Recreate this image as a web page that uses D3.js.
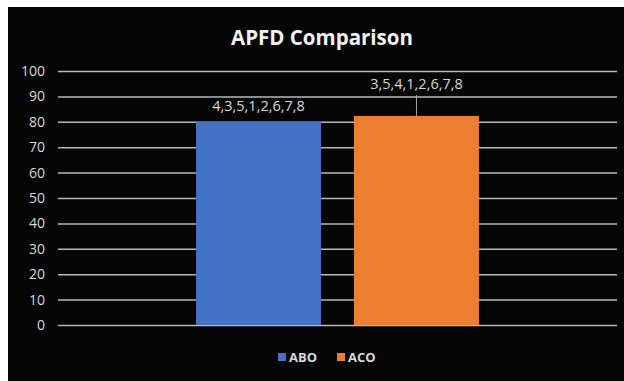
<!DOCTYPE html>
<html>
<head>
<meta charset="utf-8">
<script src="https://cdn.jsdelivr.net/npm/d3@7"></script>
<style>
  body { margin: 0; background: #fff; }
  svg { display: block; }
</style>
</head>
<body>
<div id="chart"></div>
<script>
const methods = ["ABO", "ACO"];
const apfd = [80, 82.3];
const orders = ["4,3,5,1,2,6,7,8", "3,5,4,1,2,6,7,8"];
const yTicks = [0, 10, 20, 30, 40, 50, 60, 70, 80, 90, 100];
const colors = ["#4472c4", "#ed7d31"];

const width = 624, height = 381;
const margin = { left: 58, right: 7, top: 71, bottom: 56 };
const font = "'Open Sans', 'Noto Sans', sans-serif";

const svg = d3.select("#chart").append("svg")
  .attr("width", width)
  .attr("height", height);

svg.append("rect")
  .attr("x", 8).attr("y", 7)
  .attr("width", width - 8).attr("height", height - 7)
  .attr("fill", "#050505");

const xScale = d3.scaleBand()
  .domain(methods)
  .range([margin.left, width - margin.right])
  .paddingInner(0.209)
  .paddingOuter(0.874);

const yScale = d3.scaleLinear()
  .domain([0, 100])
  .range([height - margin.bottom, margin.top]);

// gridlines + labels
const yAxis = svg.append("g")
  .attr("transform", "translate(" + margin.left + ",0)")
  .call(d3.axisLeft(yScale).tickValues(yTicks)
    .tickSize(-(width - margin.left - margin.right)).tickPadding(13));
yAxis.select(".domain").remove();
yAxis.selectAll("line").attr("stroke", "#b8b8b8").attr("stroke-width", 1.5);
yAxis.selectAll("text")
  .attr("fill", "#d9d9d9")
  .style("font-family", font)
  .style("font-size", "14px");

svg.selectAll(".bar")
  .data(methods)
  .enter()
  .append("rect")
  .attr("class", "bar")
  .attr("x", (d) => xScale(d))
  .attr("y", (d, i) => yScale(apfd[i]))
  .attr("width", xScale.bandwidth())
  .attr("height", (d, i) => yScale(0) - yScale(apfd[i]))
  .attr("fill", (d, i) => colors[i]);

// data labels
const labelY = [yScale(apfd[0]) - 11, yScale(apfd[1]) - 27];
svg.selectAll(".lbl")
  .data(methods)
  .enter()
  .append("text")
  .attr("x", (d) => xScale(d) + xScale.bandwidth() / 2)
  .attr("y", (d, i) => labelY[i])
  .attr("text-anchor", "middle")
  .attr("fill", "#d9d9d9")
  .style("font-family", font)
  .style("font-size", "14.5px")
  .text((d, i) => orders[i]);

// leader line for ACO label
svg.append("line")
  .attr("x1", xScale("ACO") + xScale.bandwidth() / 2)
  .attr("x2", xScale("ACO") + xScale.bandwidth() / 2)
  .attr("y1", labelY[1] + 6)
  .attr("y2", yScale(apfd[1]))
  .attr("stroke", "#a6a6a6")
  .attr("stroke-width", 1);

svg.append("text")
  .attr("x", 322).attr("y", 45)
  .attr("text-anchor", "middle")
  .attr("fill", "#f2f2f2")
  .style("font-family", font)
  .style("font-size", "20.5px")
  .style("font-weight", "bold")
  .text("APFD Comparison");

// legend
const legend = svg.selectAll(".leg")
  .data(methods)
  .enter()
  .append("g")
  .attr("transform", (d, i) => "translate(" + (278 + i * 59) + ",352)");
legend.append("rect")
  .attr("width", 8).attr("height", 8)
  .attr("y", 1)
  .attr("fill", (d, i) => colors[i]);
legend.append("text")
  .attr("x", 11).attr("y", 10)
  .attr("fill", "#d9d9d9")
  .style("font-family", font)
  .style("font-size", "13px")
  .style("font-weight", "bold")
  .text((d) => d);
</script>
</body>
</html>
